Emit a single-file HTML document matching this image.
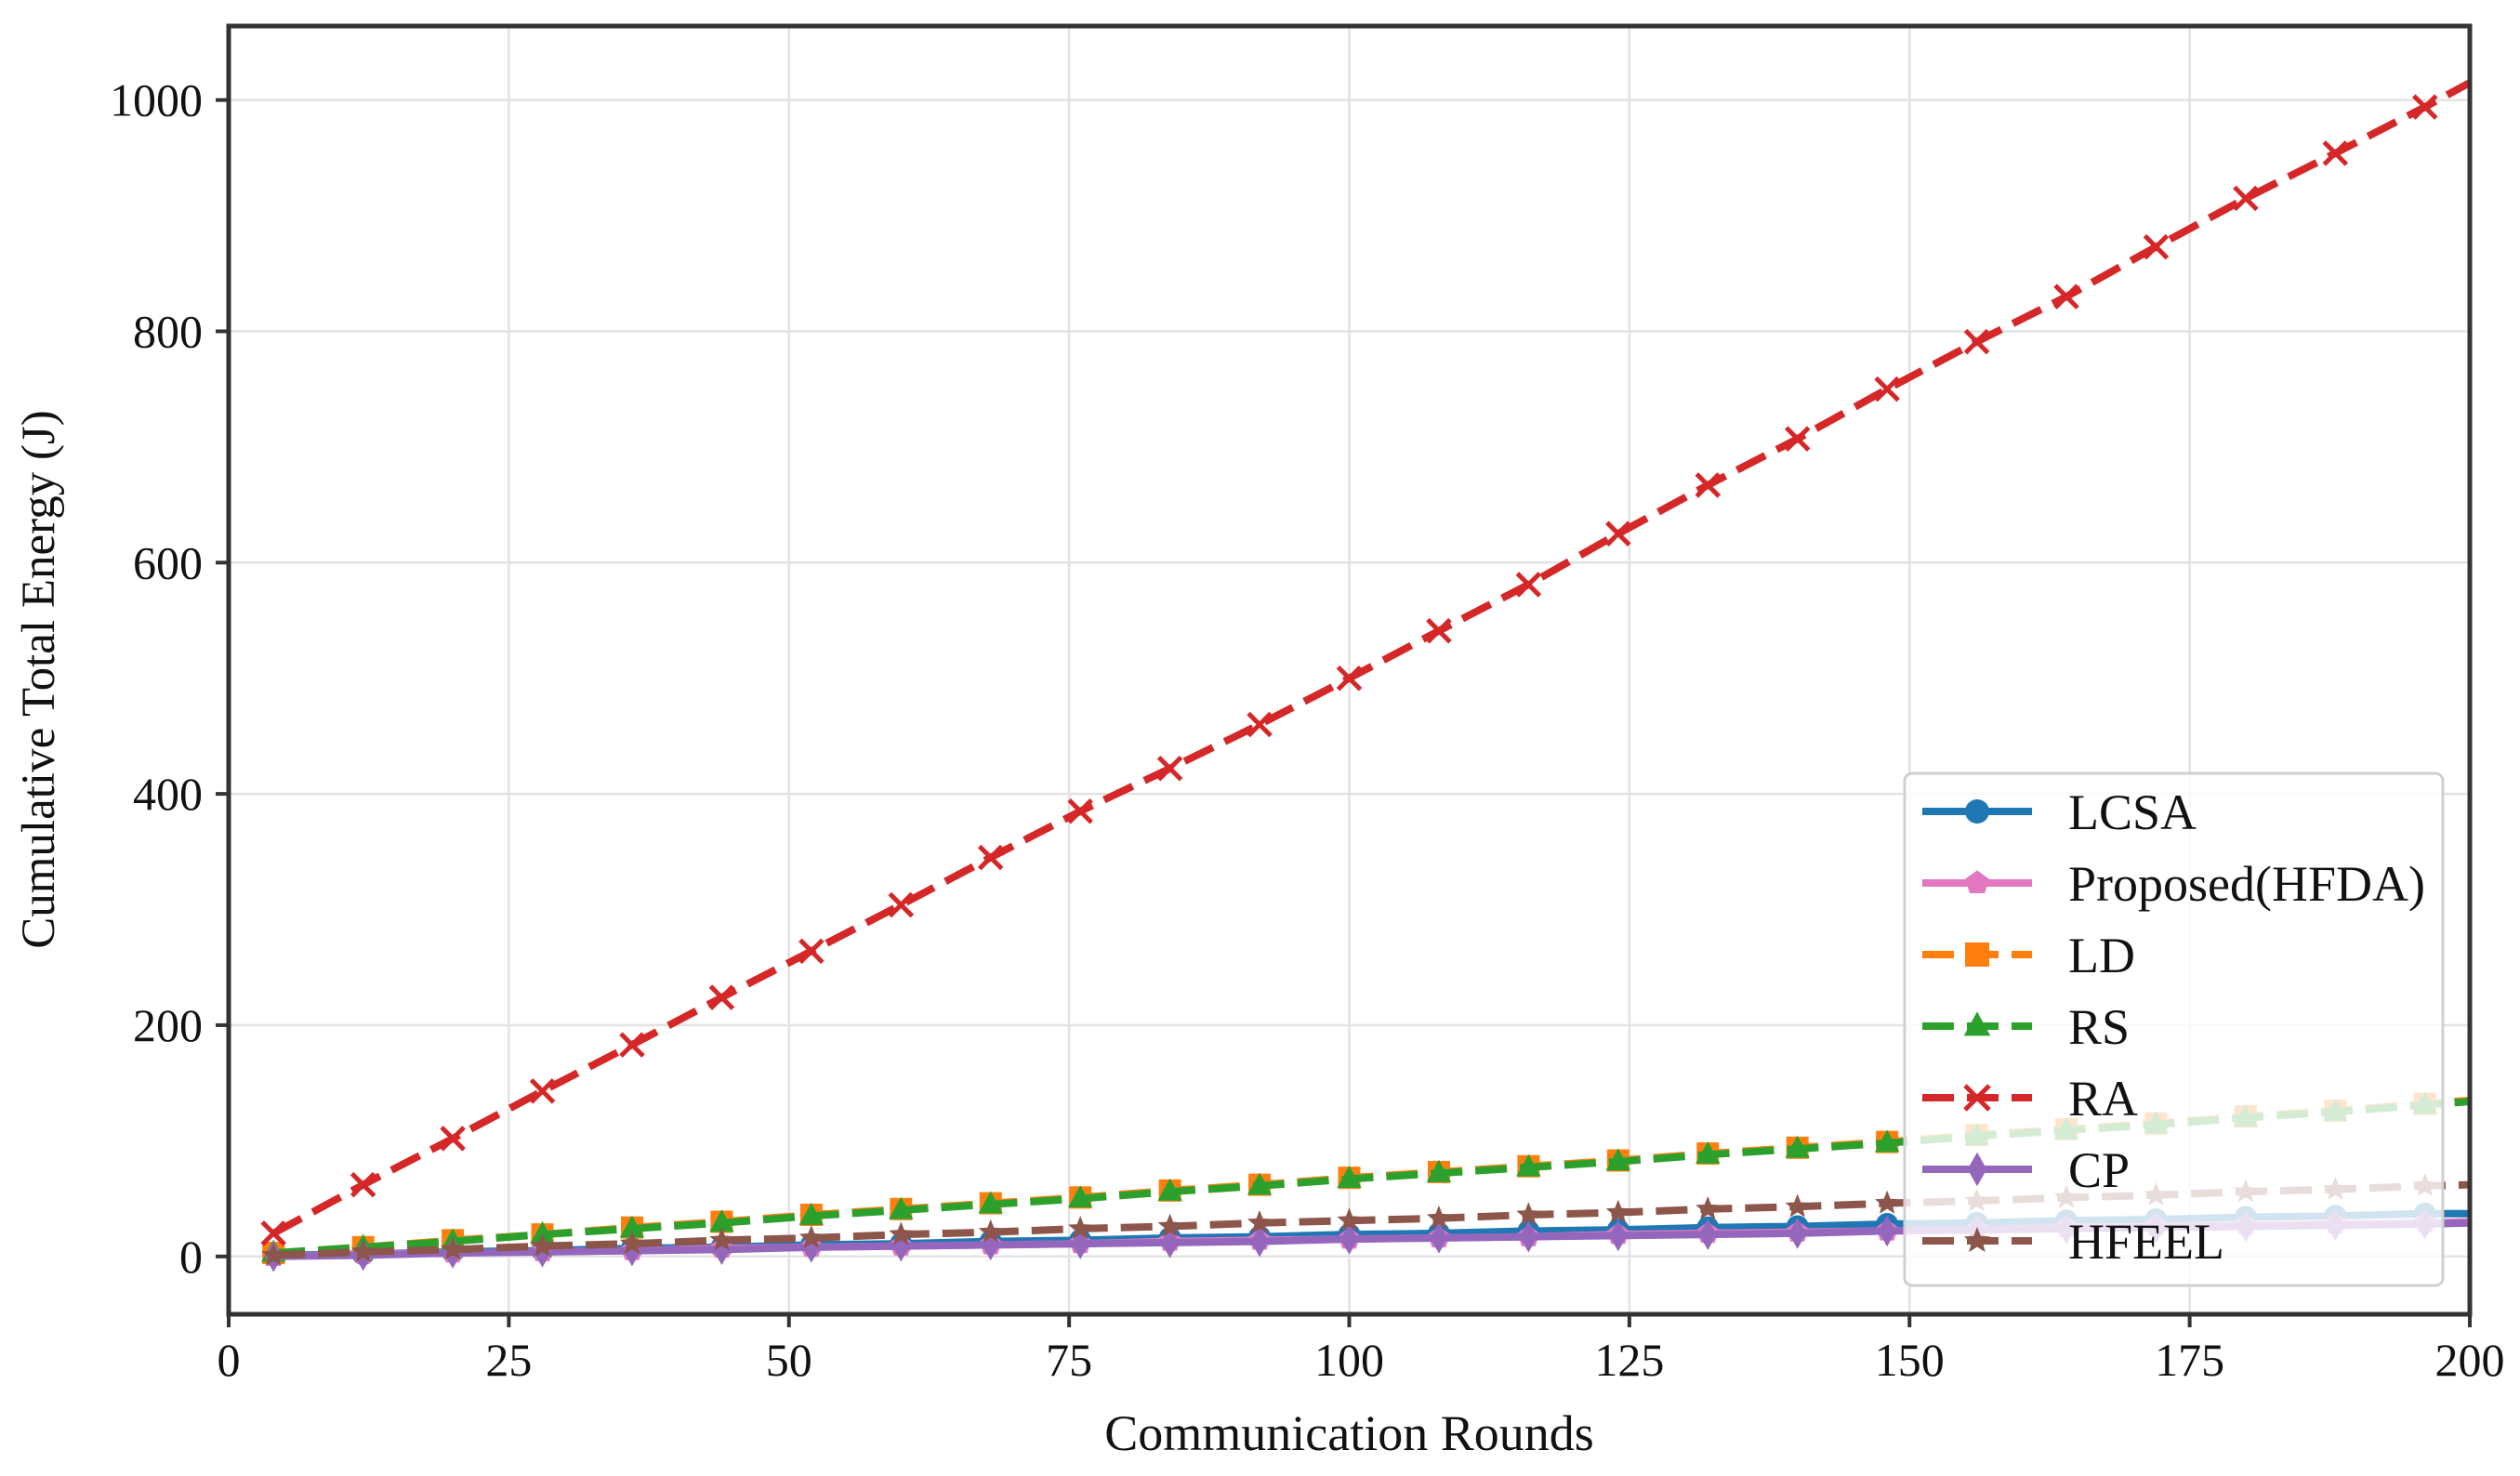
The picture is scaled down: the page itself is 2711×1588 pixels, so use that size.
<!DOCTYPE html>
<html><head><meta charset="utf-8"><style>
html,body{margin:0;padding:0;background:#fff;}
svg{display:block;font-family:"Liberation Serif","DejaVu Serif",serif;}
</style></head><body>
<svg id="chart" width="2711" height="1588" viewBox="0 0 2711 1588"></svg>
<script>
const rounds = [4,12,20,28,36,44,52,60,68,76,84,92,100,108,116,124,132,140,148,156,164,172,180,188,196,200];
const raValues = [20,62,102,143,183,224,264,304,345,385,422,460,500,541,581,625,667,707,750,791,830,873,915,954,994,1015];
const rsValues = [3,8,13,19,24,29,35,40,45,50,56,61,67,72,77,82,88,93,98,104,109,114,120,125,131,134];
const ldValues = [3,8,14,19,25,30,36,41,46,51,57,62,68,73,78,83,89,94,99,105,110,115,121,126,132,135];
const hfeelValues = [1,4,6,9,11,14,16,19,21,24,26,29,31,33,36,38,41,43,46,48,51,53,56,58,61,62];
const lcsaValues = [1,2,4,5,7,8,10,11,13,14,16,17,19,20,22,23,25,26,28,29,31,32,34,35,37,37];
const hfdaValues = [0,2,3,4,5,7,8,9,10,11,13,14,15,16,17,19,20,21,22,23,25,26,27,28,29,30];
const cpValues = [0,1,3,4,5,6,8,9,10,11,12,13,15,16,17,18,19,20,22,23,24,25,26,27,28,29];
const xTicks = [0,25,50,75,100,125,150,175,200];
const yTicks = [0,200,400,600,800,1000];

const L=246,R=2657,T=28,B=1414, X0=0,X1=200, Y0=-50,Y1=1064;
const sx=v=>L+(v-X0)/(X1-X0)*(R-L);
const sy=v=>B-(v-Y0)/(Y1-Y0)*(B-T);
const svg=document.getElementById('chart');
const NS='http://www.w3.org/2000/svg';
function mk(tag,attrs,parent){const e=document.createElementNS(NS,tag);for(const k in attrs)e.setAttribute(k,attrs[k]);(parent||svg).appendChild(e);return e;}

const grid=mk('g',{});


xTicks.forEach(t=>mk('line',{x1:sx(t),x2:sx(t),y1:T,y2:B,stroke:'#e3e3e3','stroke-width':2.5},grid));
yTicks.forEach(t=>mk('line',{x1:L,x2:R,y1:sy(t),y2:sy(t),stroke:'#e3e3e3','stroke-width':2.5},grid));

function marker(g,type,x,y,color,s){
  s=s||12;
  if(type==='o') mk('circle',{cx:x,cy:y,r:s,fill:color},g);
  else if(type==='p'){let p=[];for(let i=0;i<5;i++){const a=-Math.PI/2+i*2*Math.PI/5;p.push((x+s*1.05*Math.cos(a))+','+(y+s*1.05*Math.sin(a)));}mk('polygon',{points:p.join(' '),fill:color},g);}
  else if(type==='s') mk('rect',{x:x-s,y:y-s,width:2*s,height:2*s,fill:color},g);
  else if(type==='^') mk('polygon',{points:`${x},${y-s*1.2} ${x-s*1.1},${y+s*0.8} ${x+s*1.1},${y+s*0.8}`,fill:color},g);
  else if(type==='x'){mk('line',{x1:x-s,y1:y-s,x2:x+s,y2:y+s,stroke:color,'stroke-width':5},g);mk('line',{x1:x-s,y1:y+s,x2:x+s,y2:y-s,stroke:color,'stroke-width':5},g);}
  else if(type==='d') mk('polygon',{points:`${x},${y-s*1.4} ${x-s*0.8},${y} ${x},${y+s*1.4} ${x+s*0.8},${y}`,fill:color},g);
  else if(type==='*'){let p=[];for(let i=0;i<10;i++){const a=-Math.PI/2+i*Math.PI/5;const r=i%2?s*0.5:s*1.15;p.push((x+r*Math.cos(a))+','+(y+r*Math.sin(a)));}mk('polygon',{points:p.join(' '),fill:color},g);}
}
const series=[
 {name:'LCSA',vals:lcsaValues,color:'#1f77b4',m:'o',dash:null},
 {name:'Proposed(HFDA)',vals:hfdaValues,color:'#e377c2',m:'p',dash:null},
 {name:'LD',vals:ldValues,color:'#ff7f0e',m:'s',dash:'34,14'},
 {name:'RS',vals:rsValues,color:'#2ca02c',m:'^',dash:'34,14'},
 {name:'RA',vals:raValues,color:'#d62728',m:'x',dash:'34,14'},
 {name:'CP',vals:cpValues,color:'#9467bd',m:'d',dash:null},
 {name:'HFEEL',vals:hfeelValues,color:'#8c564b',m:'*',dash:'34,14'}
];
const plot=mk('g',{});


series.forEach(s=>{
  const g=mk('g',{},plot);
  
  
  const pts=rounds.map((r,i)=>sx(r)+','+sy(s.vals[i])).join(' ');
  const a={points:pts,fill:'none',stroke:s.color,'stroke-width':8};
  if(s.dash)a['stroke-dasharray']=s.dash;
  mk('polyline',a,g);
  rounds.forEach((r,i)=>{if(r!==200)marker(g,s.m,sx(r),sy(s.vals[i]),s.color);});
});

const ax=mk('g',{});


mk('rect',{x:L,y:T,width:R-L,height:B-T,fill:'none',stroke:'#333','stroke-width':5},ax);
xTicks.forEach(t=>{
  mk('line',{x1:sx(t),x2:sx(t),y1:B,y2:B+14,stroke:'#333','stroke-width':4},ax);
  const tx=mk('text',{x:sx(t),y:B+66,'text-anchor':'middle','font-size':50,fill:'#111'},ax);
  tx.textContent=t;
  
  
});
yTicks.forEach(t=>{
  mk('line',{x1:L-14,x2:L,y1:sy(t),y2:sy(t),stroke:'#333','stroke-width':4},ax);
  const tx=mk('text',{x:L-28,y:sy(t)+17,'text-anchor':'end','font-size':50,fill:'#111'},ax);
  tx.textContent=t;
  
  
});
const xt=mk('text',{x:(L+R)/2,y:1560,'text-anchor':'middle','font-size':54,fill:'#111'});
xt.textContent='Communication Rounds';


const yt=mk('text',{x:0,y:0,'text-anchor':'middle','font-size':51,fill:'#111',transform:`translate(58,${(T+B)/2+10}) rotate(-90)`});
yt.textContent='Cumulative Total Energy (J)';



const lg=mk('g',{});


mk('rect',{x:2049,y:832,width:579,height:551,rx:8,fill:'rgba(255,255,255,0.8)',stroke:'#d0d0d0','stroke-width':3},lg);
series.forEach((s,i)=>{
  const y=873+i*77;
  const e=mk('g',{},lg);
  
  
  const a={x1:2068,x2:2186,y1:y,y2:y,stroke:s.color,'stroke-width':8};
  if(s.dash)a['stroke-dasharray']='34,14';
  mk('line',a,e);
  marker(e,s.m,2127,y,s.color,13);
  const t=mk('text',{x:2225,y:y+19,'font-size':54,fill:'#111'},e);
  t.textContent=s.name;
});
</script>
</body></html>
